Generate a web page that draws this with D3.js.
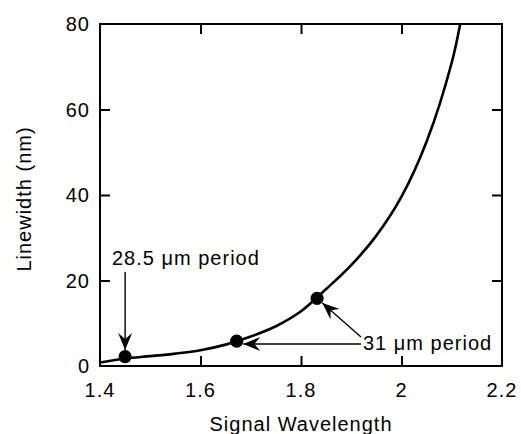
<!DOCTYPE html>
<html>
<head>
<meta charset="utf-8">
<script src="https://cdn.jsdelivr.net/npm/d3@7"></script>
<style>
  html, body { margin: 0; padding: 0; background: #fff; }
  svg text { font-family: "Liberation Sans", Arial, Helvetica, sans-serif; fill: #000; }
</style>
</head>
<body>
<svg id="chart" width="521" height="434"></svg>
<script>
// ---- data ----
const curveWavelength = [1.40, 1.45, 1.50, 1.55, 1.60, 1.65, 1.70, 1.75, 1.80, 1.85, 1.90, 1.95, 2.00, 2.05, 2.10, 2.12];
const curveLinewidth  = [0.8, 1.75, 2.3, 2.9, 3.7, 5.0, 6.9, 9.3, 12.8, 18.0, 23.6, 30.5, 39.6, 52.5, 71.0, 82.0];
const pointWavelength = [1.45, 1.672, 1.832];
const pointLinewidth  = [2.2, 5.8, 15.8];
const xTicks = [1.4, 1.6, 1.8, 2.0, 2.2];
const xTickLabels = ["1.4", "1.6", "1.8", "2", "2.2"];
const yTicks = [0, 20, 40, 60, 80];
const yTickLabels = ["0", "20", "40", "60", "80"];
const xTitle = "Signal Wavelength";
const yTitle = "Linewidth (nm)";
const label1 = "28.5 \u03BCm period";
const label2 = "31 \u03BCm period";

(function () {
// ---- layout ----
const svg = d3.select("#chart");
const mL = 100, mR = 502, mT = 24, mB = 366;
const x = d3.scaleLinear().domain([1.4, 2.2]).range([mL, mR]);
const y = d3.scaleLinear().domain([0, 80]).range([mB, mT]);
const FS = 20, LS = "1px";

// clip
svg.append("defs").append("clipPath").attr("id", "plotclip")
  .append("rect").attr("x", mL).attr("y", mT).attr("width", mR - mL).attr("height", mB - mT);

// curve
const curveData = curveWavelength.map((w, i) => [w, curveLinewidth[i]]);
const line = d3.line().x(d => x(d[0])).y(d => y(d[1])).curve(d3.curveCatmullRom.alpha(0.5));
svg.append("path").datum(curveData)
  .attr("clip-path", "url(#plotclip)")
  .attr("d", line).attr("fill", "none").attr("stroke", "#000").attr("stroke-width", 2.6);

// frame
svg.append("rect").attr("x", mL).attr("y", mT).attr("width", mR - mL).attr("height", mB - mT)
  .attr("fill", "none").attr("stroke", "#000").attr("stroke-width", 2);

// inward ticks
const tickLen = 10;
function styleAxis(g) {
  g.select(".domain").remove();
  g.selectAll(".tick line").attr("stroke", "#000").attr("stroke-width", 2);
  g.selectAll(".tick text").remove();
}
const innerX = xTicks.slice(1, -1), innerY = yTicks.slice(1, -1);
svg.append("g").attr("transform", `translate(0,${mB})`)
  .call(d3.axisBottom(x).tickValues(innerX).tickSizeInner(-tickLen).tickSizeOuter(0)).call(styleAxis);
svg.append("g").attr("transform", `translate(0,${mT})`)
  .call(d3.axisTop(x).tickValues(innerX).tickSizeInner(-tickLen).tickSizeOuter(0)).call(styleAxis);
svg.append("g").attr("transform", `translate(${mL},0)`)
  .call(d3.axisLeft(y).tickValues(innerY).tickSizeInner(-tickLen).tickSizeOuter(0)).call(styleAxis);
svg.append("g").attr("transform", `translate(${mR},0)`)
  .call(d3.axisRight(y).tickValues(innerY).tickSizeInner(-tickLen).tickSizeOuter(0)).call(styleAxis);

// tick labels
svg.append("g").selectAll("text").data(xTicks).join("text")
  .attr("x", d => x(d)).attr("y", 397)
  .attr("text-anchor", "middle").attr("font-size", FS).attr("letter-spacing", LS)
  .text((d, i) => xTickLabels[i]);
svg.append("g").selectAll("text").data(yTicks).join("text")
  .attr("x", 90).attr("y", d => y(d)).attr("dy", "0.36em")
  .attr("text-anchor", "end").attr("font-size", FS).attr("letter-spacing", LS)
  .text((d, i) => yTickLabels[i]);

// axis titles
svg.append("text").attr("x", (mL + mR) / 2).attr("y", 431)
  .attr("text-anchor", "middle").attr("font-size", FS).attr("letter-spacing", LS).text(xTitle);
svg.append("text").attr("transform", `translate(31,${(mT + mB) / 2 + 4}) rotate(-90)`)
  .attr("text-anchor", "middle").attr("font-size", FS).attr("letter-spacing", LS).text(yTitle);

// points
svg.append("g").selectAll("circle").data(pointWavelength).join("circle")
  .attr("cx", d => x(d)).attr("cy", (d, i) => y(pointLinewidth[i])).attr("r", 6.6).attr("fill", "#000");

// arrows
function arrow(x1, y1, x2, y2) {
  svg.append("line").attr("x1", x1).attr("y1", y1).attr("x2", x2).attr("y2", y2)
    .attr("stroke", "#000").attr("stroke-width", 1.4);
  const ang = Math.atan2(y2 - y1, x2 - x1) * 180 / Math.PI;
  svg.append("path").attr("d", "M0,0 L-17,-7 L-11,0 L-17,7 Z")
    .attr("transform", `translate(${x2},${y2}) rotate(${ang})`).attr("fill", "#000");
}
const p1x = x(pointWavelength[0]), p1y = y(pointLinewidth[0]);
arrow(p1x, 272, p1x, p1y - 6.6);
svg.append("text").attr("x", 112).attr("y", 265).attr("font-size", FS).attr("letter-spacing", LS).text(label1);

const p2x = x(pointWavelength[1]), p2y = y(pointLinewidth[1]);
const p3x = x(pointWavelength[2]), p3y = y(pointLinewidth[2]);
arrow(361, 344, p2x + 6.6, 344);
const dx = 361 - p3x, dy = 337 - p3y, dl = Math.hypot(dx, dy);
arrow(361, 337, p3x + dx / dl * 7, p3y + dy / dl * 7);
svg.append("text").attr("x", 363).attr("y", 350).attr("font-size", FS).attr("letter-spacing", LS).text(label2);
})();
</script>
</body>
</html>
